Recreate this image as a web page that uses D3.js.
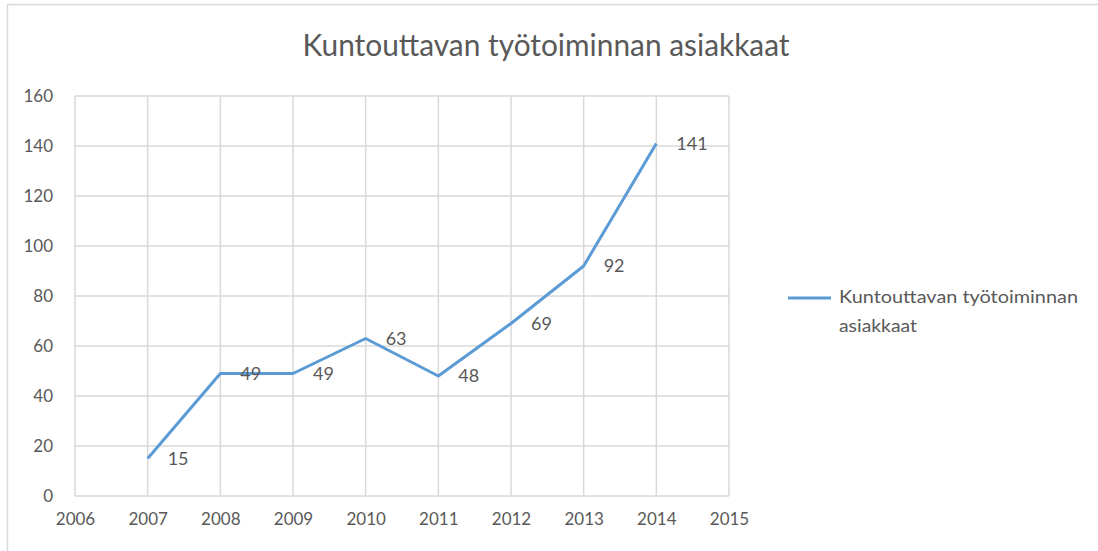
<!DOCTYPE html>
<html>
<head>
<meta charset="utf-8">
<script src="https://cdn.jsdelivr.net/npm/d3@7"></script>
<style>
  body { margin: 0; background: #fff; }
  text { font-family: Lato, "Open Sans", sans-serif; fill: #595959; }
</style>
</head>
<body>
<div id="chart"></div>
<script>
var width = 1098;
var height = 551;

var title = "Kuntouttavan työtoiminnan asiakkaat";
var seriesName = ["Kuntouttavan työtoiminnan", "asiakkaat"];
var years = [2007, 2008, 2009, 2010, 2011, 2012, 2013, 2014];
var values = [15, 49, 49, 63, 48, 69, 92, 141];
var xTicks = [2006, 2007, 2008, 2009, 2010, 2011, 2012, 2013, 2014, 2015];
var yTicks = [0, 20, 40, 60, 80, 100, 120, 140, 160];

var plot = { left: 75, right: 729, top: 96, bottom: 496 };
var lineColor = "#5b9bd5";
var gridColor = "#d9d9d9";

var svg = d3.select("#chart")
    .append("svg")
    .attr("width", width)
    .attr("height", height)

// chart frame
svg.append("rect")
    .attr("x", 7.5).attr("y", 4.5)
    .attr("width", width + 10).attr("height", height + 10)
    .attr("fill", "none")
    .attr("stroke", gridColor)
    .attr("stroke-width", 1.5)

svg.append("text")
    .attr("x", 546).attr("y", 56)
    .attr("text-anchor", "middle")
    .attr("font-size", 30)
    .attr("textLength", 487)
    .attr("lengthAdjust", "spacingAndGlyphs")
    .text(title)

var x = d3.scaleLinear().domain([2006, 2015]).range([plot.left, plot.right]);
var y = d3.scaleLinear().domain([0, 160]).range([plot.bottom, plot.top]);

// grid
var grid = svg.append("g");
grid.selectAll("line.h").data(yTicks).enter().append("line")
    .attr("x1", plot.left).attr("x2", plot.right)
    .attr("y1", d => y(d)).attr("y2", d => y(d))
    .attr("stroke", gridColor).attr("stroke-width", 1.5)
grid.selectAll("line.v").data(xTicks).enter().append("line")
    .attr("y1", plot.top).attr("y2", plot.bottom)
    .attr("x1", d => x(d)).attr("x2", d => x(d))
    .attr("stroke", gridColor).attr("stroke-width", 1.5)

// axes
svg.append("g")
    .attr("transform", "translate(" + plot.left + ",0)")
    .call(d3.axisLeft(y).tickValues(yTicks).tickSize(0).tickPadding(22))
svg.append("g")
    .attr("transform", "translate(0," + plot.bottom + ")")
    .call(d3.axisBottom(x).tickValues(xTicks).tickSize(0).tickPadding(17).tickFormat(d3.format("d")))
svg.selectAll(".domain").remove();
svg.selectAll(".tick text")
    .attr("font-family", null)
    .attr("fill", null)
    .attr("font-size", 17)

// series line
var line = d3.line()
    .x((d, i) => x(years[i]))
    .y(d => y(d));

svg.append("path")
    .datum(values)
    .attr("d", line)
    .attr("fill", "none")
    .attr("stroke", lineColor)
    .attr("stroke-width", 3)
    .attr("stroke-linejoin", "round")

// data labels
svg.selectAll("text.lbl").data(values).enter().append("text")
    .attr("class", "lbl")
    .attr("x", (d, i) => x(years[i]) + 20)
    .attr("y", d => y(d))
    .attr("dy", "0.35em")
    .attr("font-size", 18)
    .text(d => d)

// legend
var legendWidths = [239, 78];
var legend = svg.append("g");
legend.append("line")
    .attr("x1", 788).attr("x2", 831)
    .attr("y1", 298).attr("y2", 298)
    .attr("stroke", lineColor).attr("stroke-width", 3)
legend.selectAll("text").data(seriesName).enter().append("text")
    .attr("x", 839)
    .attr("y", (d, i) => 297 + i * 29)
    .attr("dy", "0.35em")
    .attr("font-size", 17)
    .attr("textLength", (d, i) => legendWidths[i])
    .attr("lengthAdjust", "spacingAndGlyphs")
    .text(d => d)
</script>
</body>
</html>
